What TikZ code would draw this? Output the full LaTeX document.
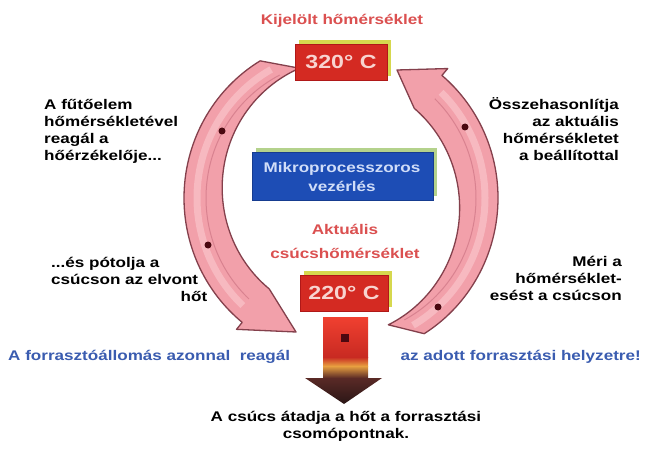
\documentclass[tikz,border=0pt]{standalone}
\usepackage{fontspec}
\setmainfont{Liberation Sans}[FakeStretch=1.22]
\usetikzlibrary{calc}
\definecolor{arrowfill}{HTML}{F2A0AA}
\definecolor{arrowhi}{HTML}{F7B9C0}
\definecolor{arrowstripe}{HTML}{D98290}
\definecolor{arrowline}{HTML}{84404C}
\definecolor{dotc}{HTML}{4A0810}
\definecolor{boxred}{HTML}{D42A22}
\definecolor{boxredline}{HTML}{B01818}
\definecolor{glowyellow}{HTML}{D6D84E}
\definecolor{boxtxt}{HTML}{F8D4D0}
\definecolor{bluebox}{HTML}{1D4DB5}
\definecolor{blueline}{HTML}{163C90}
\definecolor{blueglow}{HTML}{B4D28C}
\definecolor{bluetxt}{HTML}{D0DDF8}
\definecolor{titlered}{HTML}{DB5050}
\definecolor{textblue}{HTML}{3A5CB0}
\definecolor{heatA}{HTML}{F04030}
\definecolor{heatB}{HTML}{C82A22}
\definecolor{heatO}{HTML}{E8A040}
\definecolor{heatD}{HTML}{5A2A26}
\definecolor{heatE}{HTML}{2A1616}
\begin{document}
\begin{tikzpicture}[x=1pt,y=-1pt,
  txt/.style={font=\fontsize{14}{17}\selectfont\bfseries, inner sep=0pt},
  arrowshape/.style={fill=arrowfill, draw=arrowline, line width=1.3pt, line join=round},
  arrowhilite/.style={draw=arrowhi, line width=7pt},
  arrowline2/.style={draw=arrowstripe, line width=1pt},
  arrowdot/.style={fill=dotc},
  redbox/.style={fill=boxred, draw=boxredline, line width=0.8pt},
  glow/.style={fill=glowyellow},
  temptxt/.style={font=\fontsize{19}{22}\selectfont\bfseries, text=boxtxt, inner sep=0pt}]
\useasboundingbox (0,0) rectangle (645,449);
\fill[white] (0,0) rectangle (645,449);
\coordinate (C) at (341,198);
\coordinate (tipL) at (296,332);
\coordinate (tipR) at (397,70);
% left arrow (top -> bottom)
\path[arrowshape] ($(C)+(239:157 and 160)$) arc[start angle=239, end angle=129, x radius=157, y radius=160]
  -- ($(C)+(129:166 and 169)$) -- (tipL) -- ($(C)+(129:114 and 117)$)
  arc[start angle=129, end angle=247, x radius=127, y radius=130] -- cycle;
\path[arrowhilite] ($(C)+(241:144 and 147)$) arc[start angle=241, end angle=133, x radius=144, y radius=147];
\path[arrowline2] ($(C)+(243:135 and 138)$) arc[start angle=243, end angle=133, x radius=135, y radius=138];
% right arrow (bottom -> top)
\path[arrowshape] ($(C)+(58:157 and 160)$) arc[start angle=58, end angle=-50, x radius=157, y radius=160]
  -- ($(C)+(-50:166 and 169)$) -- (tipR) -- ($(C)+(-50:114 and 117)$)
  arc[start angle=-50, end angle=64, x radius=127, y radius=130] -- cycle;
\path[arrowhilite] ($(C)+(60:144 and 147)$) arc[start angle=60, end angle=-46, x radius=144, y radius=147];
\path[arrowline2] ($(C)+(62:135 and 138)$) arc[start angle=62, end angle=-46, x radius=135, y radius=138];
% dots on arrows
\fill[arrowdot] (222,131) circle (3.5);
\fill[arrowdot] (208,245) circle (3.5);
\fill[arrowdot] (465,127) circle (3.5);
\fill[arrowdot] (438,307) circle (3.5);
% top temperature box
\fill[glow] (299,40) rectangle (391,76);
\path[redbox] (295,44) rectangle (387,80);
\node[temptxt] (tset) at (341,62) {320° C};
\node[txt, text=titlered] (title) at (342,21) {Kijelölt hőmérséklet};
% center blue box
\fill[blueglow] (256,148) rectangle (437,196);
\path[fill=bluebox, draw=blueline, line width=0.8pt] (252,152) rectangle (433,200);
\node[txt, text=bluetxt, align=center, font=\fontsize{14}{19}\selectfont\bfseries] (mcu) at (342,177) {Mikroprocesszoros\\vezérlés};
% actual temperature
\node[txt, text=titlered, align=center, font=\fontsize{14}{24}\selectfont\bfseries] (act) at (345,241) {Aktuális\\csúcshőmérséklet};
\fill[glow] (304,271) rectangle (392,307);
\path[redbox] (300,275) rectangle (388,311);
\node[temptxt] (tact) at (344,293) {220° C};
% heater element
\shade[top color=heatA, bottom color=heatB] (323,317) rectangle (368,357);
\shade[top color=heatB, bottom color=heatO] (323,357) rectangle (368,366);
\shade[top color=heatO, bottom color=heatD] (323,366) rectangle (368,378);
\shade[top color=heatD, bottom color=heatE] (305,378) -- (382,378) -- (344,404) -- cycle;
\fill[dotc] (341,334) rectangle (349,342);
% side texts
\node[txt, align=left, anchor=north west] (ul) at (44,99) {A fűtőelem\\hőmérsékletével\\reagál a\\hőérzékelője...};
\node[txt, align=right, anchor=north east] (ur) at (619,97) {Összehasonlítja\\az aktuális\\hőmérsékletet\\a beállítottal};
\node[txt, text width=156pt, align=left, anchor=north west] (ll) at (51,257) {...és pótolja a\\csúcson az elvont\\\hspace*{\fill}hőt};
\node[txt, align=right, anchor=north east] (lr) at (622,256) {Méri a\\hőmérséklet-\\esést a csúcson};
% bottom texts
\node[txt, text=textblue, anchor=west] (bl) at (8,357) {A forrasztóállomás azonnal\ \ reagál};
\node[txt, text=textblue, anchor=east] (br) at (641,357) {az adott forrasztási helyzetre!};
\node[txt, align=center] (bt) at (346,426) {A csúcs átadja a hőt a forrasztási\\csomópontnak.};
\end{tikzpicture}
\end{document}
